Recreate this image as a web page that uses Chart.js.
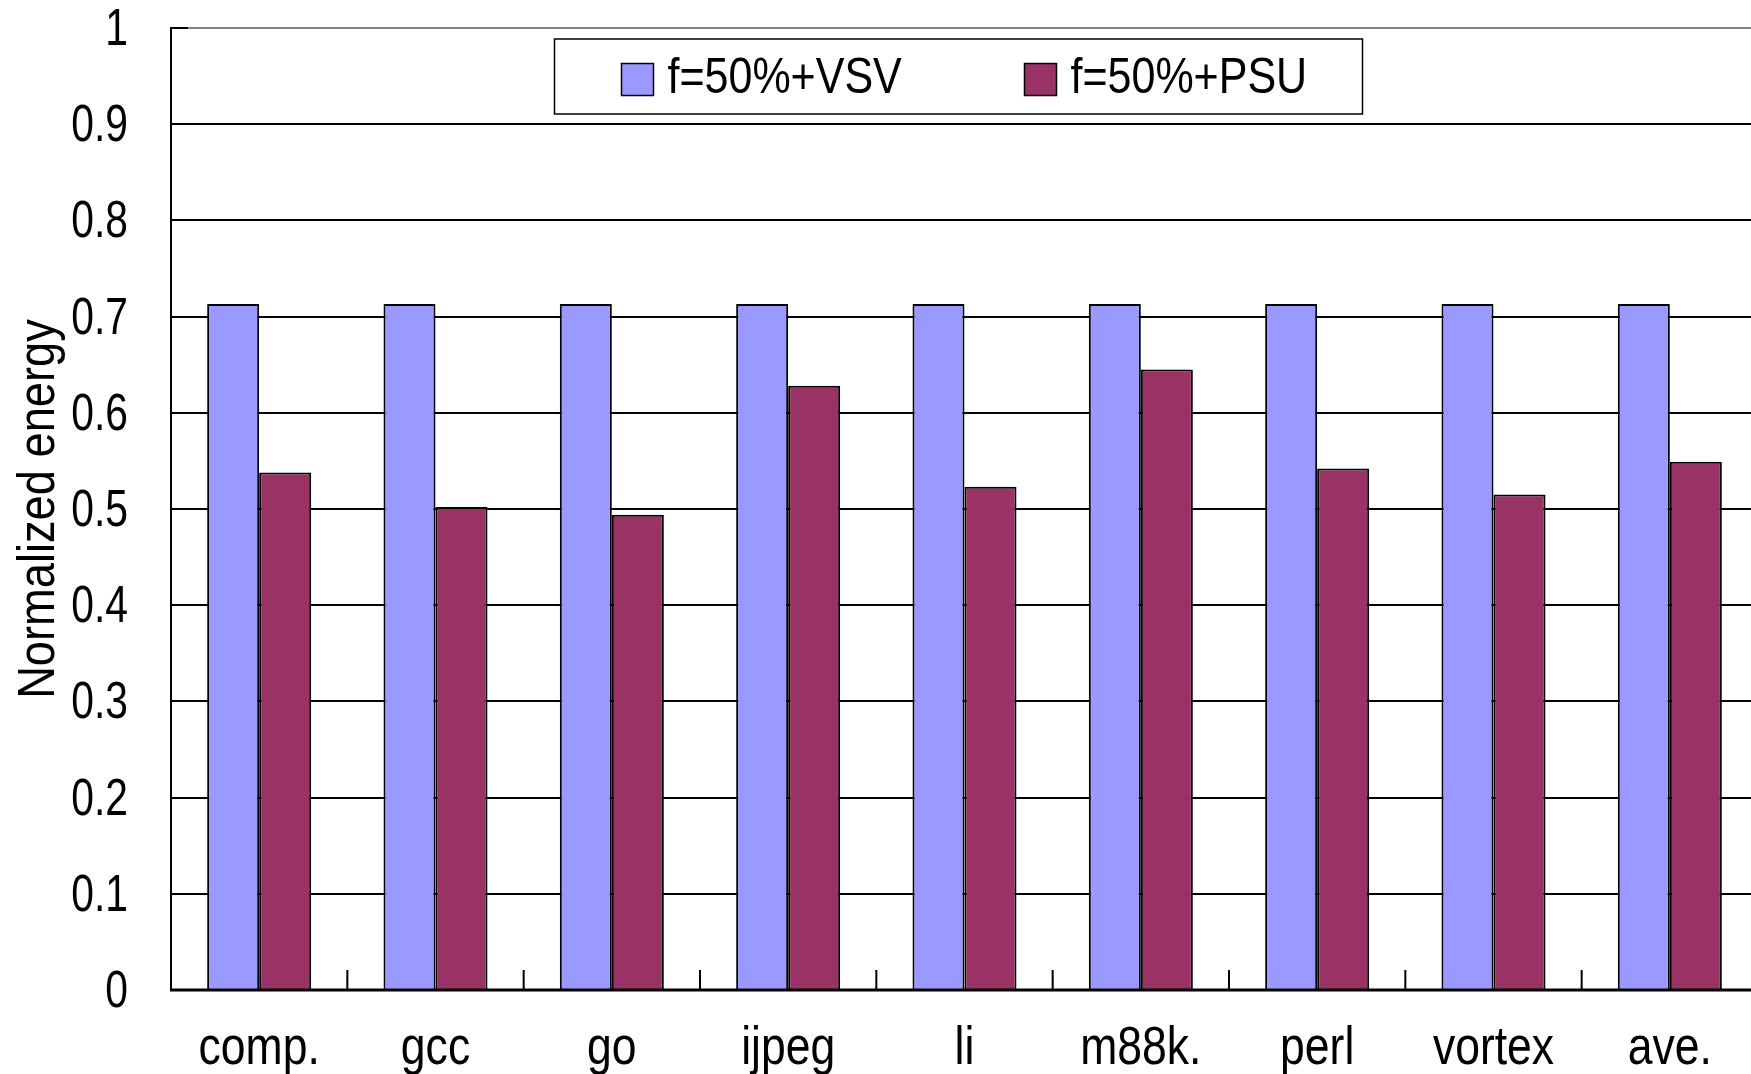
<!DOCTYPE html>
<html>
<head>
<meta charset="utf-8">
<script src="https://cdn.jsdelivr.net/npm/chart.js@4.4.1/dist/chart.umd.min.js"></script>
<style>
  html, body { margin: 0; padding: 0; background: #fff; overflow: hidden; }
  #wrap { width: 1762px; height: 1074px; }
</style>
</head>
<body>
<div id="wrap"><canvas id="energyChart" width="1762" height="1074"></canvas></div>
<script>
// values
const categories = ["comp.", "gcc", "go", "ijpeg", "li", "m88k.", "perl", "vortex", "ave."];
const vsvValues = [0.713, 0.713, 0.713, 0.713, 0.713, 0.713, 0.713, 0.713, 0.713];
const psuValues = [0.538, 0.502, 0.494, 0.628, 0.523, 0.645, 0.542, 0.515, 0.549];
const yTicks = [0, 0.1, 0.2, 0.3, 0.4, 0.5, 0.6, 0.7, 0.8, 0.9, 1];

const FONT = "'Liberation Sans', Arial, sans-serif";

// the original uses a narrow Arial: squeeze text horizontally, per font size
const squeezeBySize = { 50: 0.86, 51: 0.8, 52: 0.87, 53: 0.84 };
function squeezeText(c) {
  const orig = c.fillText.bind(c);
  c.fillText = function (text, x, y, maxWidth) {
    const m = /(\d+(?:\.\d+)?)px/.exec(c.font);
    const sx = (m && squeezeBySize[Math.round(+m[1])]) || 1;
    c.save();
    c.translate(x, y);
    c.scale(sx, 1);
    if (maxWidth === undefined) orig(text, 0, 0);
    else orig(text, 0, 0, maxWidth / sx);
    c.restore();
  };
}

// inward category ticks + axis line redrawn over the bars
const insideTicks = {
  id: "insideTicks",
  afterDatasetsDraw(chart) {
    const { ctx, chartArea, scales } = chart;
    const x = scales.x;
    ctx.save();
    ctx.strokeStyle = "#000";
    ctx.lineWidth = 2;
    ctx.beginPath();
    for (let i = 1; i < categories.length; i++) {
      const bx = (x.getPixelForValue(i - 1) + x.getPixelForValue(i)) / 2;
      ctx.moveTo(bx, chartArea.bottom);
      ctx.lineTo(bx, chartArea.bottom - 20);
    }
    // short black tick at top of the value axis
    ctx.moveTo(chartArea.left, chartArea.top);
    ctx.lineTo(chartArea.left + 17, chartArea.top);
    ctx.stroke();
    ctx.lineWidth = 3;
    ctx.beginPath();
    ctx.moveTo(chartArea.left - 1, chartArea.bottom);
    ctx.lineTo(chartArea.right, chartArea.bottom);
    ctx.stroke();
    ctx.restore();
  }
};

// boxed legend inside the plot
const boxLegend = {
  id: "boxLegend",
  afterDraw(chart) {
    const { ctx, chartArea } = chart;
    const w = 808, h = 75;
    const left = (chartArea.left + chartArea.right) / 2 - w / 2 - 6;
    const top = chartArea.top + 11;
    ctx.save();
    ctx.fillStyle = "#fff";
    ctx.fillRect(left, top, w, h);
    ctx.strokeStyle = "#000";
    ctx.lineWidth = 1.5;
    ctx.strokeRect(left, top, w, h);
    ctx.font = "50px " + FONT;
    ctx.textBaseline = "middle";
    ctx.textAlign = "left";
    const offsets = [67, 470];
    chart.data.datasets.forEach((ds, i) => {
      const sx = left + offsets[i];
      const cy = top + h / 2 + 3;
      ctx.fillStyle = ds.backgroundColor;
      ctx.fillRect(sx, cy - 16, 32, 32);
      ctx.lineWidth = 1.5;
      ctx.strokeRect(sx, cy - 16, 32, 32);
      ctx.fillStyle = "#000";
      ctx.fillText(ds.label, sx + 46, cy);
    });
    ctx.restore();
  }
};

const ctx = document.getElementById("energyChart").getContext("2d");
squeezeText(ctx);

new Chart(ctx, {
  type: "bar",
  data: {
    labels: categories,
    datasets: [
      {
        label: "f=50%+VSV",
        data: vsvValues,
        backgroundColor: "#9999FF",
        borderColor: "#000",
        borderWidth: 2
      },
      {
        label: "f=50%+PSU",
        data: psuValues,
        backgroundColor: "#993366",
        borderColor: "#000",
        borderWidth: 2
      }
    ]
  },
  options: {
    responsive: false,
    animation: false,
    devicePixelRatio: 1,
    layout: { padding: { top: 28, right: 4, left: 0, bottom: 0 } },
    datasets: {
      bar: { categoryPercentage: 0.59, barPercentage: 1.0 }
    },
    plugins: {
      legend: { display: false },
      tooltip: { enabled: false }
    },
    scales: {
      x: {
        grid: { display: false },
        border: { display: false },
        ticks: {
          color: "#000",
          padding: 25,
          font: { family: FONT, size: 53, lineHeight: 1 }
        },
        afterFit(scale) { scale.height = 84; }
      },
      y: {
        min: 0,
        max: 1,
        afterBuildTicks(scale) {
          scale.ticks = yTicks.map(v => ({ value: v }));
        },
        grid: {
          color: c => (c.tick && c.tick.value === 1 ? "#808080" : "#000"),
          lineWidth: 2,
          drawTicks: true,
          tickLength: 41,
          tickColor: "rgba(0,0,0,0)"
        },
        border: { display: true, color: "#000", width: 2 },
        ticks: {
          color: "#000",
          padding: 2,
          labelOffset: 3,
          font: { family: FONT, size: 51, lineHeight: 1 },
          callback: v => String(Math.round(v * 10) / 10)
        },
        title: {
          display: true,
          text: "Normalized energy",
          color: "#000",
          padding: { top: 8, bottom: 0 },
          font: { family: FONT, size: 52, lineHeight: 1.2 }
        },
        afterFit(scale) { scale.width = 171; }
      }
    }
  },
  plugins: [insideTicks, boxLegend]
});
</script>
</body>
</html>
